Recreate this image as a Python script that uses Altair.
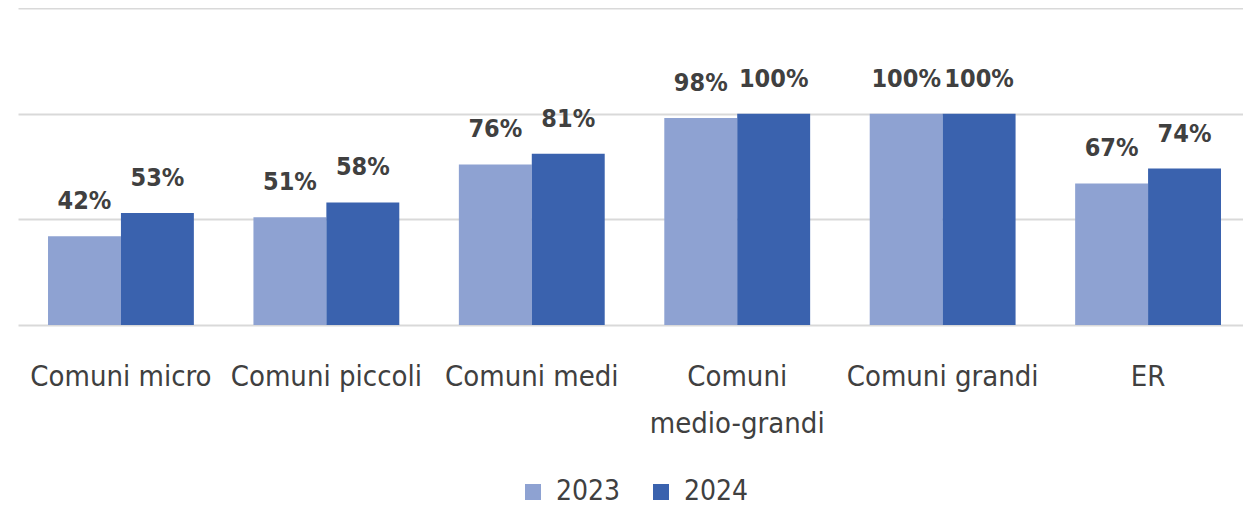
import altair as alt
import pandas as pd

categories = ["Comuni micro", "Comuni piccoli", "Comuni medi",
              "Comuni medio-grandi", "Comuni grandi", "ER"]
years = ["2023", "2024"]
values_2023 = [42, 51, 76, 98, 100, 67]
values_2024 = [53, 58, 81, 100, 100, 74]

rows = []
for c, v in zip(categories, values_2023):
    rows.append({"cat": c, "year": "2023", "val": v})
for c, v in zip(categories, values_2024):
    rows.append({"cat": c, "year": "2024", "val": v})
df = pd.DataFrame(rows)
df["label"] = df["val"].astype(str) + "%"

FONT = "Liberation Sans Narrow, DejaVu Sans Condensed, Open Sans, sans-serif"

xenc = alt.X("cat:N", sort=categories,
             scale=alt.Scale(paddingInner=0.29, paddingOuter=0.1266, align=0.577),
             axis=alt.Axis(title=None, labelAngle=0, domain=False, ticks=False,
                           labelFontSize=29, labelColor="#404040", labelFont=FONT,
                           labelPadding=51, labelLineHeight=47, labelBaseline="middle",
                           labelLimit=0,
                           labelExpr="datum.label == 'Comuni medio-grandi' ? ['Comuni', 'medio-grandi'] : datum.label"))
yenc = alt.Y("val:Q", scale=alt.Scale(domain=[0, 150], nice=False),
             axis=alt.Axis(title=None, values=[0, 50, 100, 150], labels=False,
                           ticks=False, domain=False, grid=True,
                           gridColor="#D9D9D9", gridWidth=2))

color = alt.Color("year:N", sort=years,
                  scale=alt.Scale(domain=years, range=["#8EA2D2", "#3A62AE"]),
                  legend=alt.Legend(title=None, orient="none", direction="horizontal",
                                    legendX=501, legendY=470,
                                    symbolType="square", symbolSize=256,
                                    symbolStrokeWidth=0, labelFontSize=28,
                                    labelFont=FONT, labelColor="#404040",
                                    columnPadding=26, labelOffset=9))

bars = alt.Chart(df).mark_bar().encode(
    x=xenc, xOffset=alt.XOffset("year:N", sort=years), y=yenc, color=color)

text = alt.Chart(df).mark_text(baseline="bottom", dy=-22, fontSize=25,
                               fontWeight="bold", color="#404040", font=FONT).encode(
    x=alt.X("cat:N", sort=categories), xOffset=alt.XOffset("year:N", sort=years),
    y="val:Q", text="label:N")

chart = (bars + text).properties(
    width=1225, height=317,
    padding={"left": 10, "right": 0, "top": 0, "bottom": 0},
).configure_view(stroke=None)

chart.save("out.html", embed_options={"renderer": "svg", "actions": False})
